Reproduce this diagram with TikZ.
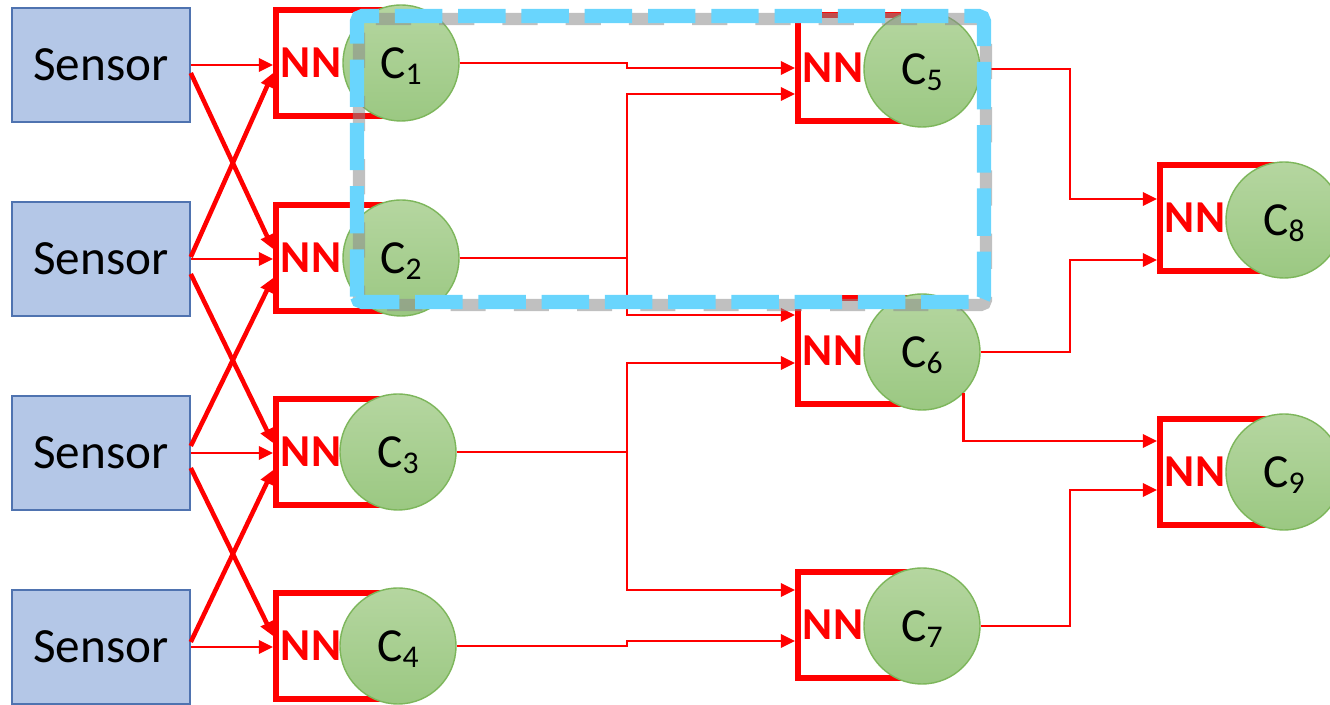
\documentclass[tikz,border=0pt]{standalone}
\usepackage{fontspec}
\setmainfont{Carlito}
\usetikzlibrary{arrows.meta}
\definecolor{sensfill}{HTML}{B4C7E7}
\definecolor{sensline}{HTML}{4F73B0}
\definecolor{cfillt}{HTML}{B5D6A0}
\definecolor{cfillb}{HTML}{9BC882}
\definecolor{cline}{HTML}{7DB65B}
\definecolor{dashblue}{HTML}{69D5FD}
\newcommand{\clab}[1]{C\smash{\raisebox{-3.6pt}{\fontsize{18}{18}\selectfont #1}}}
\begin{document}
\begin{tikzpicture}[x=0.02cm,y=-0.02cm,
  sensor/.style={draw=sensline, line width=0.9pt, fill=sensfill, minimum width=3.56cm, minimum height=2.28cm, inner sep=0pt, font=\fontsize{28}{30}\selectfont},
  nnbox/.style={draw=red, line width=3.4pt, fill=white, minimum height=2.12cm, text width=2.34cm, inner xsep=0.1cm, inner ysep=0pt, align=left, text=red, font=\fontsize{26}{28}\selectfont\bfseries, anchor=west},
  cnode/.style={circle, draw=cline, line width=0.8pt, top color=cfillt, bottom color=cfillb, minimum size=2.32cm, inner sep=0pt, font=\fontsize{27}{30}\selectfont},
  tip/.style={-{Triangle[length=8pt,width=7.5pt]}},
  link/.style={draw=red, line width=1.6pt, tip},
  cross/.style={draw=red, line width=2.6pt, tip},
  dashbox/.style={draw=dashblue, line width=8pt, dash pattern=on 27pt off 9pt, rounded corners=3pt},
  dashshadow/.style={draw=black!45, opacity=0.55, line width=7pt, dash pattern=on 20pt off 16pt, dash phase=12pt, rounded corners=3pt}
]
\useasboundingbox (0,0) rectangle (1330,705);

% sensors
\node[sensor] (s1) at (101,65) {Sensor};
\node[sensor] (s2) at (101,259) {Sensor};
\node[sensor] (s3) at (101,453) {Sensor};
\node[sensor] (s4) at (101,647) {Sensor};

% first layer
\node[nnbox] (nn1) at (273,63) {NN};
\node[nnbox] (nn2) at (273,258) {NN};
\node[nnbox] (nn3) at (273,452) {NN};
\node[nnbox] (nn4) at (273,646) {NN};
\node[cnode] (c1) at (401,63) {\clab{1}};
\node[cnode] (c2) at (401,258) {\clab{2}};
\node[cnode] (c3) at (398,452) {\clab{3}};
\node[cnode] (c4) at (398,646) {\clab{4}};

% second layer
\node[nnbox] (nn5) at (795,68) {NN};
\node[nnbox] (nn6) at (795,351) {NN};
\node[nnbox] (nn7) at (795,625) {NN};
\node[cnode] (c5) at (922,69) {\clab{5}};
\node[cnode] (c6) at (922,352) {\clab{6}};
\node[cnode] (c7) at (922,626) {\clab{7}};

% third layer
\node[nnbox] (nn8) at (1157,218) {NN};
\node[nnbox] (nn9) at (1157,472) {NN};
\node[cnode] (c8) at (1284,220) {\clab{8}};
\node[cnode] (c9) at (1284,472) {\clab{9}};

% junction columns
\coordinate (j1) at (627,0);
\coordinate (j2) at (1070,0);

% sensor -> NN
\draw[link] (s1.east) -- (s1.east -| nn1.west);
\draw[link] (s2.east) -- (s2.east -| nn2.west);
\draw[link] (s3.east) -- (s3.east -| nn3.west);
\draw[link] (s4.east) -- (s4.east -| nn4.west);
\draw[cross] ([yshift=-0.16cm]s1.east) -- ([yshift=0.18cm]nn2.west);
\draw[cross] ([yshift=-0.3cm]s2.east) -- ([yshift=0.18cm]nn3.west);
\draw[cross] ([yshift=-0.3cm]s3.east) -- ([yshift=0.2cm]nn4.west);
\draw[cross] ([yshift=0.04cm]s2.east) -- ([yshift=-0.2cm]nn1.west);
\draw[cross] ([yshift=0.14cm]s3.east) -- ([yshift=-0.4cm]nn2.west);
\draw[cross] ([yshift=0.1cm]s4.east) -- ([yshift=-0.36cm]nn3.west);

% layer 1 -> layer 2
\draw[link] (c1.east) -- (c1.east -| j1) |- (nn5.west);
\draw[link] (c2.east) -- (c2.east -| j1) |- ([yshift=-0.52cm]nn5.west);
\draw[link] (c2.east) -- (c2.east -| j1) |- ([yshift=0.72cm]nn6.west);
\draw[link] (c3.east) -- (c3.east -| j1) |- ([yshift=-0.24cm]nn6.west);
\draw[link] (c3.east) -- (c3.east -| j1) |- ([yshift=0.70cm]nn7.west);
\draw[link] (c4.east) -- (c4.east -| j1) |- ([yshift=-0.32cm]nn7.west);

% layer 2 -> layer 3
\draw[link] (c5.east) -- (c5.east -| j2) |- ([yshift=0.38cm]nn8.west);
\draw[link] (c6.east) -- (c6.east -| j2) |- ([yshift=-0.84cm]nn8.west);
\draw[link] (c6.south east) |- ([yshift=0.62cm]nn9.west);
\draw[link] (c7.east) -- (c7.east -| j2) |- ([yshift=-0.36cm]nn9.west);

% highlighted group
\draw[dashshadow, shift={(2,3)}] (357,302) -- (357,16) -- (984,16) -- (984,302) -- cycle;
\draw[dashbox] (357,302) -- (357,16) -- (984,16) -- (984,302) -- cycle;
\end{tikzpicture}
\end{document}
